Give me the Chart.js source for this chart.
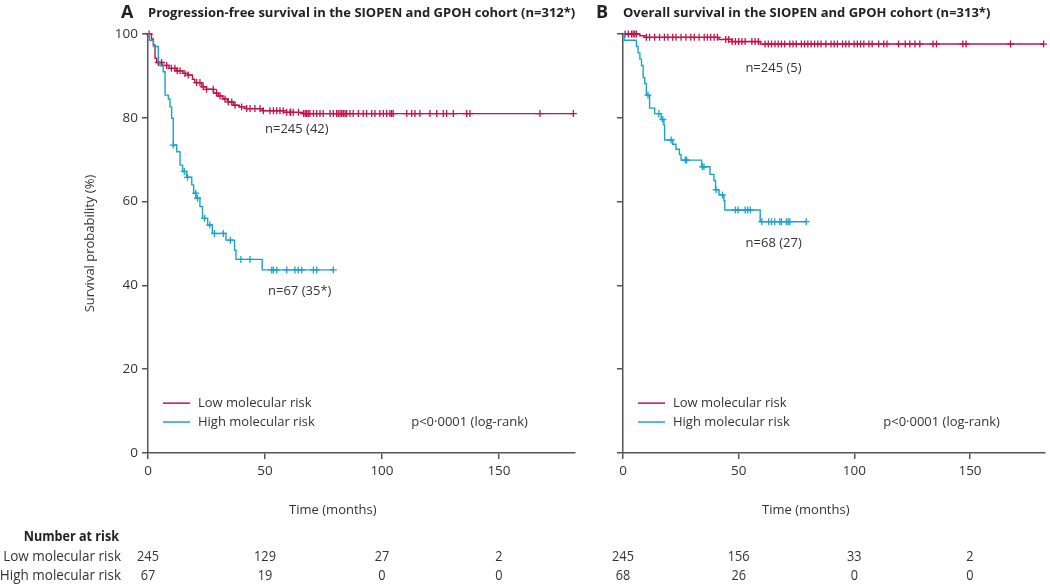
<!DOCTYPE html>
<html>
<head>
<meta charset="utf-8">
<script src="https://cdn.jsdelivr.net/npm/chart.js@4.4.1/dist/chart.umd.min.js"></script>
<style>
  body { margin: 0; background: #fff; width: 1050px; height: 584px; position: relative; overflow: hidden; }
  canvas { position: absolute; top: 0; }
  #chartA { left: 0; }
  #chartB { left: 590px; }
</style>
</head>
<body>
<canvas id="chartA" width="590" height="584"></canvas>
<canvas id="chartB" width="460" height="584"></canvas>
<script>
const RED = '#c4124a';
const CYAN = '#1ba3cc';
const AXIS = '#555';
const TEXT = '#333';
const FONT = "'Open Sans', 'Noto Sans', sans-serif";

const xTicks = [0, 50, 100, 150];
const groups = ['Low molecular risk', 'High molecular risk'];
const legendY = [11.9, 7.4];
const pText = 'p<0·0001 (log-rank)';

// A - progression-free survival
const pfsLowTime = [1.5, 2.3, 3.0, 3.7, 6, 9, 12, 15, 17, 19, 20, 23, 25, 28, 30, 32, 34, 36.5, 39, 42, 49, 58, 66];
const pfsLowSurv = [98.8, 97.4, 94.2, 93.2, 92.5, 91.8, 91.2, 90.6, 90.2, 89.2, 88.4, 87.4, 86.8, 85.9, 85.2, 84.5, 83.8, 83.0, 82.6, 82.2, 81.7, 81.3, 81.0];
const pfsLowCensor = [0.5, 4.4, 5.8, 8, 10, 11.5, 12.5, 13.7, 15.8, 17.2, 20.8, 22.2, 23.6, 25, 27.9, 29.3, 30.8, 32.9, 34.3, 35.8, 37.2, 40, 42.2, 43.6, 45.7, 47.9, 49.3, 52.1, 53.6, 55, 56.4, 57.8, 59.3, 60.7, 61, 62.1, 64.3, 66.5, 67.2, 67.8, 68.5, 69.2, 70.7, 72.1, 73.5, 74.9, 77.8, 79.2, 80.6, 81.3, 82.1, 82.8, 83.5, 84.2, 84.9, 86.3, 87.7, 89.9, 92, 93.4, 95.6, 97, 99.1, 100.6, 102, 103.4, 104.1, 104.8, 110.6, 112.7, 114.1, 116.2, 120.5, 123.4, 126.2, 127.6, 130.5, 136.2, 137.6, 167.5, 181.8];
const pfsLowEnd = 181.8;

const pfsHighTime = [0.6, 2.3, 4.4, 5.1, 6.5, 7.3, 8.7, 9.4, 10.1, 10.8, 12.3, 13.7, 14.8, 16.5, 18.7, 19.5, 20.5, 22.2, 23.3, 25.5, 27.5, 33.3, 37.0, 37.6, 48.8];
const pfsHighSurv = [98.5, 97.0, 93.4, 92.4, 91.0, 85.4, 84.5, 82.6, 79.9, 73.5, 71.9, 68.7, 67.2, 65.8, 64.0, 62.0, 60.8, 58.8, 56.0, 54.4, 52.4, 50.8, 48.4, 46.2, 43.7];
const pfsHighCensor = [10.8, 15.5, 16.9, 20.4, 21.2, 24.2, 26.4, 28.4, 32.2, 35.2, 39.7, 43.6, 52.9, 53.6, 55, 59.3, 62.8, 64.2, 65.7, 70.7, 72.1, 79.2];
const pfsHighEnd = 79.2;

const pfsRiskLow = [245, 129, 27, 2];
const pfsRiskHigh = [67, 19, 0, 0];

// B - overall survival
const osLowTime = [7.3, 9.5, 41.5, 47, 59.3];
const osLowSurv = [99.6, 99.2, 98.7, 98.2, 97.6];
const osLowCensor = [0.9, 2.3, 3.7, 4.4, 5.1, 5.8, 10.1, 11.5, 13.7, 15.8, 17.9, 19.4, 21.5, 22.9, 25.1, 27.2, 29.3, 30.8, 32.9, 35.1, 36.5, 37.9, 39.4, 40.8, 44.4, 45.7, 47.2, 48.6, 50, 51.4, 52.8, 55.7, 57.1, 58.5, 61.4, 62.8, 64.2, 65.7, 67.1, 68.5, 69.9, 72.1, 73.5, 74.9, 77.1, 78.5, 79.9, 81.3, 82.8, 84.2, 85.6, 87.7, 89.9, 91.3, 92.7, 94.9, 96.3, 97.7, 99.9, 101.3, 102.7, 104.1, 106.3, 107.7, 110.5, 112.7, 114.1, 119.1, 122, 124, 126.2, 128.3, 134, 135.5, 146.9, 148.3, 167.5, 181.8];
const osLowEnd = 181.8;

const osHighTime = [0.5, 5.8, 6.5, 7.3, 8.0, 8.7, 9.4, 10.1, 11.5, 13.7, 16.5, 17.7, 18.0, 21.5, 22.9, 24.4, 25.1, 34.0, 37.6, 39.3, 40.0, 41.5, 43.6, 44.0, 59.3];
const osHighSurv = [98.5, 97.0, 95.5, 94.0, 92.5, 89.6, 88.2, 85.4, 82.3, 81.0, 79.6, 78.2, 74.7, 73.7, 72.5, 71.2, 69.9, 68.3, 66.5, 65.0, 62.8, 61.6, 60.2, 58.0, 55.2];
const osHighCensor = [10.8, 15.5, 17.2, 20.8, 26.9, 27.5, 34.3, 35.0, 40.2, 43.0, 48.6, 49.7, 52.8, 53.9, 55.0, 60.0, 63.0, 64.2, 65.6, 67.8, 68.5, 70.6, 71.4, 72.1, 79.2];
const osHighEnd = 79.2;

const osRiskLow = [245, 156, 33, 2];
const osRiskHigh = [68, 26, 0, 0];

function kmLine(times, surv, end) {
    const pts = [{x: 0, y: 100}];
    times.forEach((t, i) => pts.push({x: t, y: surv[i]}));
    pts.push({x: end, y: surv[surv.length - 1]});
    return pts;
}

function survAt(times, surv, t) {
    let s = 100;
    times.forEach((tt, i) => { if (tt <= t) s = surv[i]; });
    return s;
}

function censorPoints(times, surv, censor) {
    return censor.map(t => ({x: t, y: survAt(times, surv, t)}));
}

function lineSet(data, color) {
    return {
        data: data,
        borderColor: color,
        borderWidth: 1.4,
        stepped: true,
        pointRadius: 0,
        fill: false,
        clip: false
    };
}

function censorSet(data, color) {
    return {
        data: data,
        showLine: false,
        pointStyle: 'cross',
        pointRadius: 3.5,
        borderColor: color,
        borderWidth: 1.3,
        pointHoverRadius: 0,
        clip: false
    };
}

// condensed look for the number-at-risk table
function narrowText(ctx, text, x, y, align, squeeze) {
    ctx.save();
    ctx.translate(x, y);
    ctx.scale(squeeze, 1);
    ctx.textAlign = align;
    ctx.fillText(text, 0, 0);
    ctx.restore();
}

function extras(cfg) {
    return {
        id: 'extras',
        afterDraw(chart) {
            const ctx = chart.ctx;
            const a = chart.chartArea;
            const x = chart.scales.x;
            const y = chart.scales.y;
            ctx.save();
            ctx.textBaseline = 'middle';
            ctx.textAlign = 'left';

            // panel title
            ctx.fillStyle = '#222';
            ctx.font = 'bold 18px ' + FONT;
            ctx.fillText(cfg.letter, a.left - 27, 13);
            ctx.font = 'bold 13px ' + FONT;
            ctx.fillText(cfg.title, a.left, 13);

            // n labels next to curves
            ctx.fillStyle = TEXT;
            ctx.font = '13px ' + FONT;
            cfg.nLabels.forEach(l => {
                ctx.fillText(l.text, x.getPixelForValue(l.x), y.getPixelForValue(l.y));
            });

            // legend
            [RED, CYAN].forEach((c, i) => {
                const py = y.getPixelForValue(legendY[i]);
                ctx.strokeStyle = c;
                ctx.lineWidth = 1.5;
                ctx.beginPath();
                ctx.moveTo(a.left + 15, py);
                ctx.lineTo(a.left + 42, py);
                ctx.stroke();
                ctx.fillText(groups[i], a.left + 50, py);
            });
            ctx.fillText(pText, x.getPixelForValue(112.5), y.getPixelForValue(legendY[1]));

            // x title
            ctx.textAlign = 'center';
            ctx.fillText('Time (months)', x.getPixelForValue(79), 510);

            // y title
            if (cfg.yTitle) {
                ctx.save();
                ctx.translate(90, (a.top + a.bottom) / 2);
                ctx.rotate(-Math.PI / 2);
                ctx.fillText(cfg.yTitle, 0, 0);
                ctx.restore();
            }

            // number at risk
            ctx.font = '15px ' + FONT;
            [cfg.riskLow, cfg.riskHigh].forEach((row, r) => {
                row.forEach((n, i) => {
                    narrowText(ctx, String(n), x.getPixelForValue(xTicks[i]), 557 + r * 19, 'center', 0.85);
                });
            });
            if (cfg.rowLabels) {
                ctx.font = 'bold 15px ' + FONT;
                ctx.fillStyle = '#222';
                narrowText(ctx, 'Number at risk', 119, 537, 'right', 0.84);
                ctx.font = '15px ' + FONT;
                ctx.fillStyle = TEXT;
                groups.forEach((g, r) => narrowText(ctx, g, 121, 557 + r * 19, 'right', 0.9));
            }
            ctx.restore();
        }
    };
}

function createChart(canvasId, sets, axisWidth, showYLabels, padRight, cfg) {
    const ctx = document.getElementById(canvasId).getContext('2d');
    return new Chart(ctx, {
        type: 'line',
        data: { datasets: sets },
        options: {
            responsive: false,
            animation: false,
            devicePixelRatio: 1,
            layout: { padding: { top: 34, right: padRight, bottom: 0, left: 0 } },
            plugins: { legend: { display: false }, tooltip: { enabled: false } },
            scales: {
                x: {
                    type: 'linear',
                    min: 0,
                    max: 182.5,
                    afterFit: s => { s.height = 131; },
                    grid: { drawOnChartArea: false, tickLength: 6, color: AXIS, lineWidth: 1.5 },
                    border: { color: AXIS, width: 1.5 },
                    ticks: {
                        stepSize: 50,
                        includeBounds: false,
                        padding: 4,
                        color: TEXT,
                        font: { family: FONT, size: 13.5 }
                    }
                },
                y: {
                    min: 0,
                    max: 100,
                    afterFit: s => { s.width = axisWidth; },
                    grid: { drawOnChartArea: false, tickLength: 6, color: AXIS, lineWidth: 1.5 },
                    border: { color: AXIS, width: 1.5 },
                    ticks: {
                        stepSize: 20,
                        display: showYLabels,
                        padding: 4,
                        color: TEXT,
                        font: { family: FONT, size: 13.5 }
                    }
                }
            }
        },
        plugins: [extras(cfg)]
    });
}

const chartA = createChart('chartA', [
    lineSet(kmLine(pfsHighTime, pfsHighSurv, pfsHighEnd), CYAN),
    censorSet(censorPoints(pfsHighTime, pfsHighSurv, pfsHighCensor), CYAN),
    lineSet(kmLine(pfsLowTime, pfsLowSurv, pfsLowEnd), RED),
    censorSet(censorPoints(pfsLowTime, pfsLowSurv, pfsLowCensor), RED)
], 148, true, 15, {
    letter: 'A',
    title: 'Progression-free survival in the SIOPEN and GPOH cohort (n=312*)',
    nLabels: [{x: 50, y: 77.3, text: 'n=245 (42)'}, {x: 51.3, y: 38.5, text: 'n=67 (35*)'}],
    riskLow: pfsRiskLow,
    riskHigh: pfsRiskHigh,
    rowLabels: true,
    yTitle: 'Survival probability (%)'
});

const chartB = createChart('chartB', [
    lineSet(kmLine(osHighTime, osHighSurv, osHighEnd), CYAN),
    censorSet(censorPoints(osHighTime, osHighSurv, osHighCensor), CYAN),
    lineSet(kmLine(osLowTime, osLowSurv, osLowEnd), RED),
    censorSet(censorPoints(osLowTime, osLowSurv, osLowCensor), RED)
], 33, false, 0, {
    letter: 'B',
    title: 'Overall survival in the SIOPEN and GPOH cohort (n=313*)',
    nLabels: [{x: 52.9, y: 91.9, text: 'n=245 (5)'}, {x: 53, y: 50.1, text: 'n=68 (27)'}],
    riskLow: osRiskLow,
    riskHigh: osRiskHigh,
    rowLabels: false,
    yTitle: null
});
</script>
</body>
</html>
